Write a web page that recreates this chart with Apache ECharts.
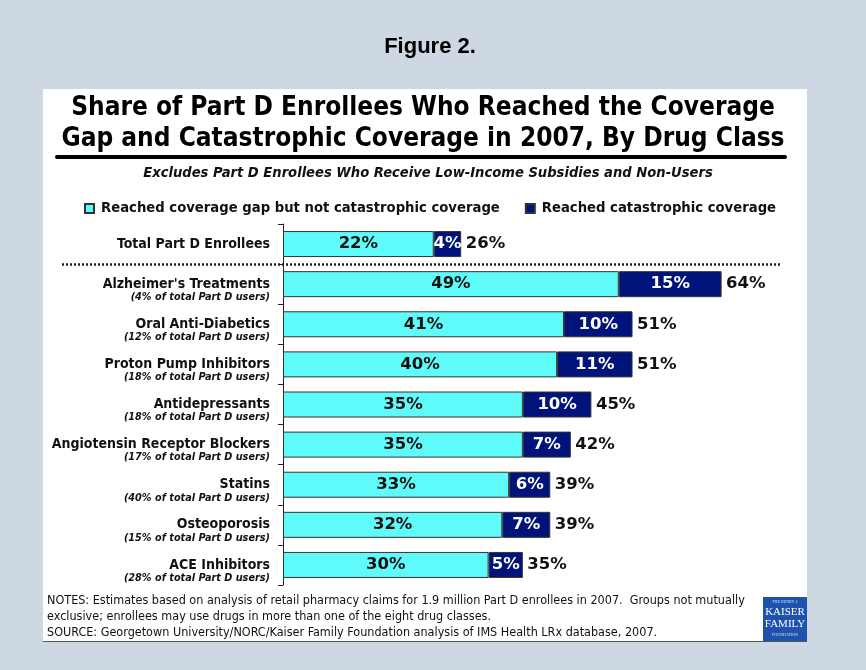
<!DOCTYPE html>
<html>
<head>
<meta charset="utf-8">
<script src="https://cdn.jsdelivr.net/npm/echarts@6/dist/echarts.min.js"></script>
<style>
html,body{margin:0;padding:0;background:#cdd8e2;}
#chart{width:866px;height:670px;}
</style>
</head>
<body>
<div id="chart"></div>
<script>
// ---- data ----
const categories = [
  'Total Part D Enrollees',
  "Alzheimer's Treatments",
  'Oral Anti-Diabetics',
  'Proton Pump Inhibitors',
  'Antidepressants',
  'Angiotensin Receptor Blockers',
  'Statins',
  'Osteoporosis',
  'ACE Inhibitors'
];
const subLabels = [
  '',
  '(4% of total Part D users)',
  '(12% of total Part D users)',
  '(18% of total Part D users)',
  '(18% of total Part D users)',
  '(17% of total Part D users)',
  '(40% of total Part D users)',
  '(15% of total Part D users)',
  '(28% of total Part D users)'
];
const gapValues = [22, 49, 41, 40, 35, 35, 33, 32, 30];
const catastrophicValues = [4, 15, 10, 11, 10, 7, 6, 7, 5];
const totalValues = [26, 64, 51, 51, 45, 42, 39, 39, 35];
const seriesNames = ['Reached coverage gap but not catastrophic coverage', 'Reached catastrophic coverage'];

const FONT = '"DejaVu Sans", Verdana, sans-serif';
const CFONT = '"DejaVu Sans Condensed", "DejaVu Sans", sans-serif';
const chart = echarts.init(document.getElementById('chart'), null, {renderer: 'canvas'});

const option = {
  backgroundColor: '#cdd8e2',
  animation: false,
  grid: {left: 283, top: 224, width: 514, height: 361, containLabel: false},
  legend: {
    data: seriesNames,
    left: 84, top: 201, padding: 0,
    itemWidth: 9, itemHeight: 9, itemGap: 25,
    icon: 'rect',
    textStyle: {fontFamily: CFONT, fontWeight: 'bold', fontSize: 14.7, color: '#111', padding: [0, 0, 0, 2]},
    selectedMode: false
  },
  xAxis: {type: 'value', min: 0, max: 75, show: false},
  yAxis: {
    type: 'category', inverse: true, data: categories,
    axisLine: {show: true, lineStyle: {color: '#222', width: 1}},
    axisTick: {show: true, length: 5, lineStyle: {color: '#222'}},
    axisLabel: {
      margin: 13,
      formatter: function (v, i) {
        if (!subLabels[i]) return '{n|' + v + '}';
        return '{e| }\n{n|' + v + '}\n{s|' + subLabels[i] + '}';
      },
      rich: {
        e: {fontSize: 10, lineHeight: 12},
        n: {fontFamily: CFONT, fontWeight: 'bold', fontSize: 14, lineHeight: 14, color: '#111', align: 'right'},
        s: {fontFamily: CFONT, fontWeight: 'bold', fontStyle: 'italic', fontSize: 10.8, lineHeight: 12, color: '#111', align: 'right'}
      }
    }
  },
  series: [
    {
      name: seriesNames[0], type: 'bar', stack: 's', data: gapValues, barWidth: 26,
      itemStyle: {color: '#5ffbfb', borderColor: '#333', borderWidth: 1},
      label: {show: true, position: 'inside', formatter: '{c}%', fontFamily: FONT, fontWeight: 'bold', fontSize: 16.5, color: '#111'}
    },
    {
      name: seriesNames[1], type: 'bar', stack: 's', data: catastrophicValues, barWidth: 26,
      itemStyle: {color: '#00137a', borderColor: '#333', borderWidth: 1},
      label: {show: true, position: 'inside', formatter: '{c}%', fontFamily: FONT, fontWeight: 'bold', fontSize: 16.5, color: '#fff'}
    },
    {
      name: 'total', type: 'scatter', data: totalValues.map((v, i) => [v, categories[i]]),
      symbolSize: 1, itemStyle: {color: 'rgba(0,0,0,0)', opacity: 1},
      label: {show: true, position: 'right', distance: 4, formatter: p => p.value[0] + '%', fontFamily: FONT, fontWeight: 'bold', fontSize: 16.5, color: '#111'},
      z: 5
    }
  ],
  graphic: [
    {type: 'rect', z: -10, shape: {x: 43, y: 89, width: 764, height: 553}, style: {fill: '#ffffff'}},
    {type: 'line', z: -9, shape: {x1: 43, y1: 641.5, x2: 807, y2: 641.5}, style: {stroke: '#555', lineWidth: 1}},
    {type: 'text', x: 430, y: 47, style: {text: 'Figure 2.', font: 'bold 22px "Liberation Sans", Arial, sans-serif', fill: '#000', align: 'center', verticalAlign: 'middle'}},
    {type: 'text', x: 423, y: 108, style: {text: 'Share of Part D Enrollees Who Reached the Coverage', font: 'bold 26px ' + CFONT, fill: '#000', align: 'center', verticalAlign: 'middle'}},
    {type: 'text', x: 423, y: 139, style: {text: 'Gap and Catastrophic Coverage in 2007, By Drug Class', font: 'bold 26px ' + CFONT, fill: '#000', align: 'center', verticalAlign: 'middle'}},
    {type: 'line', shape: {x1: 57, y1: 157, x2: 785, y2: 157}, style: {stroke: '#000', lineWidth: 4, lineCap: 'round'}},
    {type: 'text', x: 428, y: 173, style: {text: 'Excludes Part D Enrollees Who Receive Low-Income Subsidies and Non-Users', font: 'italic bold 14.6px ' + CFONT, fill: '#111', align: 'center', verticalAlign: 'middle'}},
    {type: 'line', shape: {x1: 62, y1: 264.5, x2: 782, y2: 264.5}, style: {stroke: '#222', lineWidth: 2.5, lineDash: [2, 2]}},
    {type: 'text', x: 47, y: 593, style: {text: 'NOTES: Estimates based on analysis of retail pharmacy claims for 1.9 million Part D enrollees in 2007.  Groups not mutually\nexclusive; enrollees may use drugs in more than one of the eight drug classes.\nSOURCE: Georgetown University/NORC/Kaiser Family Foundation analysis of IMS Health LRx database, 2007.', font: '12.5px "Liberation Sans Narrow", "DejaVu Sans Condensed", sans-serif', lineHeight: 16, fill: '#111'}},
    {type: 'rect', shape: {x: 763, y: 597, width: 44, height: 44}, style: {fill: '#1f52ad'}},
    {type: 'text', x: 785, y: 602, style: {text: 'THE HENRY J.', font: '4px "Liberation Serif", serif', fill: '#cfe0ff', align: 'center', verticalAlign: 'middle'}},
    {type: 'text', x: 785, y: 612, style: {text: 'KAISER', font: '11px "Liberation Serif", serif', fill: '#fff', align: 'center', verticalAlign: 'middle'}},
    {type: 'text', x: 785, y: 624, style: {text: 'FAMILY', font: '11px "Liberation Serif", serif', fill: '#fff', align: 'center', verticalAlign: 'middle'}},
    {type: 'text', x: 785, y: 635, style: {text: 'FOUNDATION', font: '4px "Liberation Serif", serif', fill: '#cfe0ff', align: 'center', verticalAlign: 'middle'}}
  ]
};
chart.setOption(option);
</script>
</body>
</html>
